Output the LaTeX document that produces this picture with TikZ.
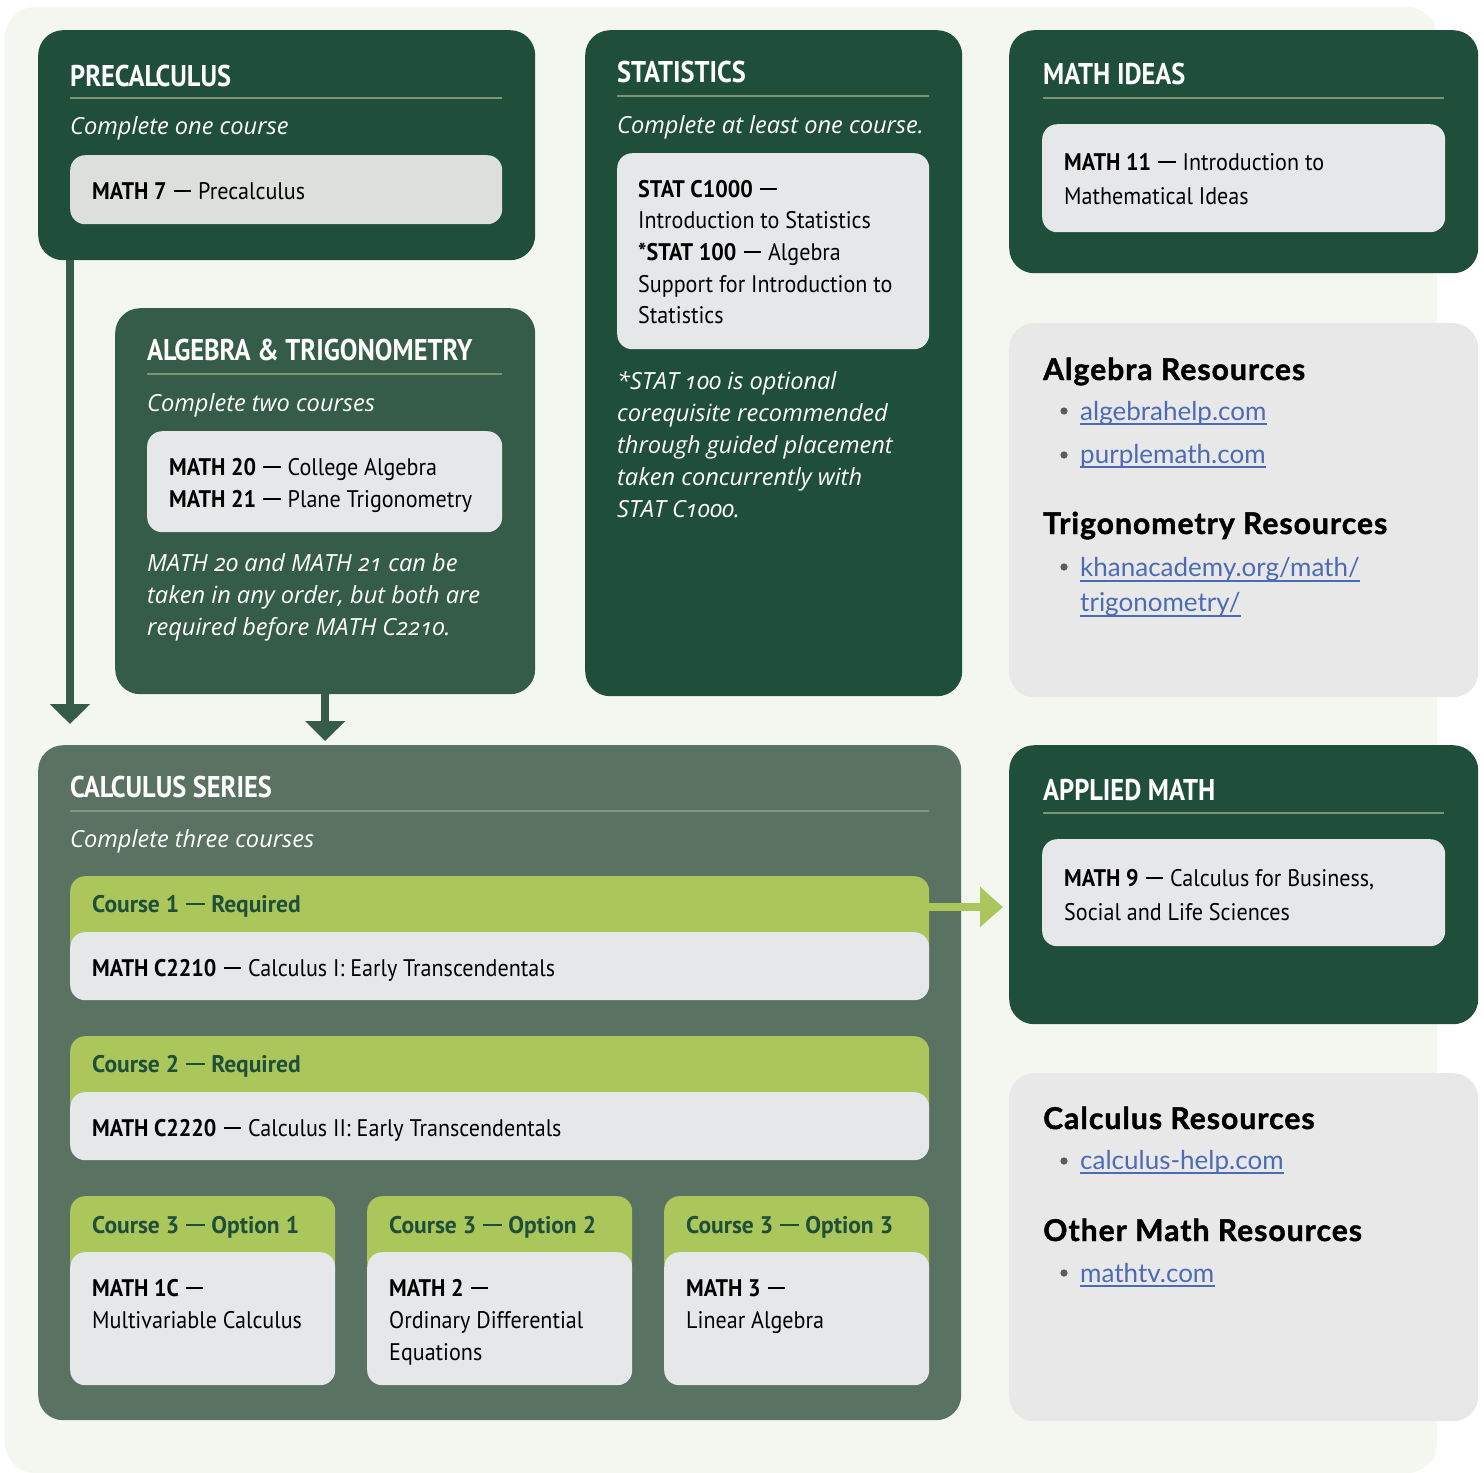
\documentclass[tikz,border=0pt]{standalone}
\usepackage{fontspec}
\usetikzlibrary{arrows.meta}
\setmainfont{PT Sans}
\newfontfamily\headfont[FakeStretch=0.88]{PT Sans}
\newfontfamily\hdrfont[FakeStretch=0.98]{PT Sans}
\newfontfamily\bodyfont[FakeStretch=0.92]{PT Sans}
\newfontfamily\itfont[Numbers=OldStyle]{Open Sans}
\newfontfamily\resfont{Lato}
\newfontfamily\resbfont[FakeBold=1.5,LetterSpace=3.5]{Lato}
\newcommand{\md}{\hspace{0.3em}\rule[0.29em]{0.72em}{0.07em}\hspace{0.3em}}
\newcommand{\mdb}{\hspace{0.28em}\rule[0.28em]{0.78em}{0.1em}\hspace{0.28em}}
\definecolor{cream}{HTML}{F4F7EF}
\definecolor{dkgreen}{HTML}{1F4E3A}
\definecolor{alggreen}{HTML}{345C48}
\definecolor{calcgreen}{HTML}{5A7262}
\definecolor{lime}{HTML}{ABC65A}
\definecolor{lightbox}{HTML}{E6E7E9}
\definecolor{precbox}{HTML}{DDDFDC}
\definecolor{resgray}{HTML}{E8E8E8}
\definecolor{sepcol}{HTML}{7D9470}
\definecolor{sepcalc}{HTML}{7F9684}
\definecolor{linkcol}{HTML}{4B6BB5}
\definecolor{bulcol}{HTML}{5A5A5A}
\tikzset{
  panel/.style={rectangle, rounded corners=25pt, inner sep=0pt, draw=none, anchor=north west},
  inbox/.style={rectangle, rounded corners=15pt, inner sep=0pt, draw=none, anchor=north west},
  ttl/.style={anchor=base west, inner sep=0pt, text=white, font=\headfont\bfseries\fontsize{30}{34}\selectfont},
  itl/.style={anchor=base west, inner sep=0pt, text=white, font=\itfont\itshape\fontsize{23.6}{28}\selectfont},
  bodytx/.style={anchor=base west, inner sep=0pt, text=black, font=\bodyfont\fontsize{24}{28}\selectfont},
  hdrtx/.style={anchor=base west, inner sep=0pt, text=dkgreen, font=\hdrfont\bfseries\fontsize{24}{28}\selectfont},
  resh/.style={anchor=base west, inner sep=0pt, text=black, font=\resbfont\bfseries\fontsize{30}{32}\selectfont},
  linktx/.style={anchor=base west, inner sep=0pt, text=linkcol, font=\resfont\fontsize{26}{30}\selectfont},
  uline/.style={draw=linkcol, line width=1.2pt},
  sepline/.style={draw=sepcol, line width=1.5pt},
  darkarrow/.style={draw=alggreen, line width=8pt, -{Triangle[width=39pt,length=20pt]}},
  limearrow/.style={draw=lime, line width=8pt, -{Triangle[width=39pt,length=23pt]}},
}
\newcommand{\bulletdot}[2]{\fill[bulcol] (#1,#2) circle (3.6pt);}
\begin{document}
\begin{tikzpicture}[x=1pt,y=-1pt]
\useasboundingbox (0,0) rectangle (1484,1473);
\fill[white] (0,0) rectangle (1484,1473);
\fill[cream, rounded corners=30pt] (5,7) rectangle (1437,1473);

% ---------- PRECALCULUS ----------
\node[panel, fill=dkgreen, minimum width=497pt, minimum height=230pt] (prec) at (38,30) {};
\node[ttl] (precT) at (70,86) {PRECALCULUS};
\draw[sepline] (70,98) -- (502,98);
\node[itl] (precI) at (70,134) {Complete one course};
\node[inbox, fill=precbox, minimum width=432pt, minimum height=69pt] (precB) at (70,155) {};
\node[bodytx] (precL1) at (92,199) {\textbf{MATH 7}\md Precalculus};

% ---------- ALGEBRA & TRIG ----------
\node[panel, fill=alggreen, minimum width=420pt, minimum height=386pt] (alg) at (115,308) {};
\node[ttl] (algT) at (147,360) {ALGEBRA \& TRIGONOMETRY};
\draw[sepline] (147,374) -- (502,374);
\node[itl] (algI) at (147,411) {Complete two courses};
\node[inbox, fill=lightbox, minimum width=355pt, minimum height=101pt] (algB) at (147,431) {};
\node[bodytx] (algL1) at (169,475) {\textbf{MATH 20}\md College Algebra};
\node[bodytx] (algL2) at (169,507) {\textbf{MATH 21}\md Plane Trigonometry};
\node[itl] (algN1) at (147,571) {MATH 20 and MATH 21 can be};
\node[itl] (algN2) at (147,603) {taken in any order, but both are};
\node[itl] (algN3) at (147,635) {required before MATH C2210.};

% ---------- STATISTICS ----------
\node[panel, fill=dkgreen, minimum width=377pt, minimum height=666pt] (stat) at (585,30) {};
\node[ttl] (statT) at (617,82) {STATISTICS};
\draw[sepline] (617,96) -- (929,96);
\node[itl] (statI) at (617,133) {Complete at least one course.};
\node[inbox, fill=lightbox, minimum width=312pt, minimum height=196pt] (statB) at (617,153) {};
\node[bodytx] (statL1) at (638,197) {\textbf{STAT C1000}\md};
\node[bodytx] (statL2) at (638,228) {Introduction to Statistics};
\node[bodytx] (statL3) at (638,260) {\textbf{*STAT 100}\md Algebra};
\node[bodytx] (statL4) at (638,292) {Support for Introduction to};
\node[bodytx] (statL5) at (638,323) {Statistics};
\node[itl] (statN1) at (617,389) {*STAT 100 is optional};
\node[itl] (statN2) at (617,421) {corequisite recommended};
\node[itl] (statN3) at (617,453) {through guided placement};
\node[itl] (statN4) at (617,485) {taken concurrently with};
\node[itl] (statN5) at (617,517) {STAT C1000.};

% ---------- MATH IDEAS ----------
\node[panel, fill=dkgreen, minimum width=469pt, minimum height=243pt] (idea) at (1009,30) {};
\node[ttl] (ideaT) at (1043,84) {MATH IDEAS};
\draw[sepline] (1043,98) -- (1444,98);
\node[inbox, fill=lightbox, minimum width=403pt, minimum height=108pt] (ideaB) at (1042,124) {};
\node[bodytx] (ideaL1) at (1064,170) {\textbf{MATH 11}\md Introduction to};
\node[bodytx] (ideaL2) at (1064,204) {Mathematical Ideas};

% ---------- ALGEBRA / TRIG RESOURCES ----------
\node[panel, fill=resgray, minimum width=469pt, minimum height=374pt] (res1) at (1009,323) {};
\node[resh] (res1H1) at (1043,380) {Algebra Resources};
\bulletdot{1064}{411}
\node[linktx] (lk1) at (1080,420) {algebrahelp.com};
\draw[uline] ([yshift=-4pt]lk1.base west) -- ([yshift=-4pt]lk1.base east);
\bulletdot{1064}{455}
\node[linktx] (lk2) at (1080,463) {purplemath.com};
\draw[uline] ([yshift=-4pt]lk2.base west) -- ([yshift=-4pt]lk2.base east);
\node[resh] (res1H2) at (1043,534) {Trigonometry Resources};
\bulletdot{1064}{567}
\node[linktx] (lk3) at (1080,576) {khanacademy.org/math/};
\draw[uline] ([yshift=-5pt]lk3.base west) -- ([yshift=-5pt]lk3.base east);
\node[linktx] (lk4) at (1080,611) {trigonometry/};
\draw[uline] ([yshift=-5pt]lk4.base west) -- ([yshift=-5pt]lk4.base east);

% ---------- CALCULUS SERIES ----------
\node[panel, fill=calcgreen, minimum width=923pt, minimum height=675pt] (calc) at (38,745) {};
\node[ttl] (calcT) at (70,797) {CALCULUS SERIES};
\draw[draw=sepcalc, line width=1.5pt] (70,811) -- (929,811);
\node[itl] (calcI) at (70,847) {Complete three courses};

\node[inbox, fill=lime, minimum width=859pt, minimum height=80pt] (c1h) at (70,876) {};
\node[inbox, fill=lightbox, minimum width=859pt, minimum height=68pt] (c1b) at (70,932) {};
\node[hdrtx] (c1t) at (92,912) {Course 1\mdb Required};
\node[bodytx] (c1l) at (92,976) {\textbf{MATH C2210}\md Calculus I: Early Transcendentals};

\node[inbox, fill=lime, minimum width=859pt, minimum height=80pt] (c2h) at (70,1036) {};
\node[inbox, fill=lightbox, minimum width=859pt, minimum height=68pt] (c2b) at (70,1092) {};
\node[hdrtx] (c2t) at (92,1072) {Course 2\mdb Required};
\node[bodytx] (c2l) at (92,1136) {\textbf{MATH C2220}\md Calculus II: Early Transcendentals};

\node[inbox, fill=lime, minimum width=265pt, minimum height=80pt] (o1h) at (70,1196) {};
\node[inbox, fill=lightbox, minimum width=265pt, minimum height=133pt] (o1b) at (70,1252) {};
\node[hdrtx] (o1t) at (92,1233) {Course 3\mdb Option 1};
\node[bodytx] (o1l1) at (92,1296) {\textbf{MATH 1C}\md};
\node[bodytx] (o1l2) at (92,1328) {Multivariable Calculus};

\node[inbox, fill=lime, minimum width=265pt, minimum height=80pt] (o2h) at (367,1196) {};
\node[inbox, fill=lightbox, minimum width=265pt, minimum height=133pt] (o2b) at (367,1252) {};
\node[hdrtx] (o2t) at (389,1233) {Course 3\mdb Option 2};
\node[bodytx] (o2l1) at (389,1296) {\textbf{MATH 2}\md};
\node[bodytx] (o2l2) at (389,1328) {Ordinary Differential};
\node[bodytx] (o2l3) at (389,1360) {Equations};

\node[inbox, fill=lime, minimum width=265pt, minimum height=80pt] (o3h) at (664,1196) {};
\node[inbox, fill=lightbox, minimum width=265pt, minimum height=133pt] (o3b) at (664,1252) {};
\node[hdrtx] (o3t) at (686,1233) {Course 3\mdb Option 3};
\node[bodytx] (o3l1) at (686,1296) {\textbf{MATH 3}\md};
\node[bodytx] (o3l2) at (686,1328) {Linear Algebra};

% ---------- APPLIED MATH ----------
\node[panel, fill=dkgreen, minimum width=469pt, minimum height=279pt] (appl) at (1009,745) {};
\node[ttl] (applT) at (1043,800) {APPLIED MATH};
\draw[sepline] (1043,813) -- (1444,813);
\node[inbox, fill=lightbox, minimum width=403pt, minimum height=107pt] (applB) at (1042,839) {};
\node[bodytx] (applL1) at (1064,886) {\textbf{MATH 9}\md Calculus for Business,};
\node[bodytx] (applL2) at (1064,920) {Social and Life Sciences};

% ---------- CALCULUS / OTHER RESOURCES ----------
\node[panel, fill=resgray, minimum width=469pt, minimum height=348pt] (res2) at (1009,1073) {};
\node[resh] (res2H1) at (1043,1129) {Calculus Resources};
\bulletdot{1064}{1161}
\node[linktx] (lk5) at (1080,1169) {calculus-help.com};
\draw[uline] ([yshift=-4pt]lk5.base west) -- ([yshift=-4pt]lk5.base east);
\node[resh] (res2H2) at (1043,1241) {Other Math Resources};
\bulletdot{1064}{1273}
\node[linktx] (lk6) at (1080,1282) {mathtv.com};
\draw[uline] ([yshift=-4pt]lk6.base west) -- ([yshift=-4pt]lk6.base east);

% ---------- CONNECTORS ----------
\draw[darkarrow, shorten >=21pt] ([xshift=32pt]prec.south west) -- ([xshift=32pt]prec.south west |- calc.north);
\draw[darkarrow, shorten >=4pt] (alg.south) -- (alg.south |- calc.north);
\draw[limearrow, shorten >=6pt] ([yshift=-31pt]c1h.north east) -- ([yshift=-31pt]c1h.north east -| appl.west);
\end{tikzpicture}
\end{document}
